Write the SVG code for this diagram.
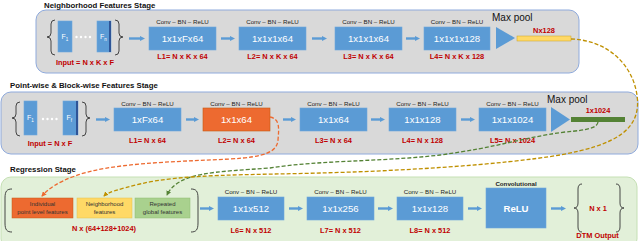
<svg xmlns="http://www.w3.org/2000/svg" width="640" height="241" viewBox="0 0 640 241">
<defs>
<style>
.p1{fill:#d9d9d9;stroke:#8faadc;stroke-width:1}
.p3{fill:#e2f0d9;stroke:#c5e0b4;stroke-width:1}
.title{font-family:"Liberation Sans",Arial,sans-serif;font-size:7.8px;font-weight:bold;fill:#111}
.hdr{font-family:"Liberation Sans",Arial,sans-serif;font-size:6.2px;fill:#222;text-anchor:middle}
.box{fill:#5b9bd5;stroke:#6fa8dc;stroke-width:0.6}
.bt{font-family:"Liberation Sans",Arial,sans-serif;font-size:9.6px;fill:#fff;text-anchor:middle}
.lab{font-family:"Liberation Sans",Arial,sans-serif;font-size:7.4px;font-weight:bold;fill:#c00000;text-anchor:middle}
.ft{font-family:"Liberation Sans",Arial,sans-serif;font-size:7px;fill:#fff}
.mp{font-family:"Liberation Sans",Arial,sans-serif;font-size:10px;fill:#111}
.rt{font-family:"Liberation Sans",Arial,sans-serif;font-size:6px;fill:#333;text-anchor:middle}
.arr{stroke:#5b9bd5;stroke-width:2.4;fill:none;marker-end:url(#ab)}
.br{fill:none;stroke:#333;stroke-width:0.9}
.dsh{fill:none;stroke-width:1.3;stroke-dasharray:4 2}
.dot{fill:#fff}
</style>
<marker id="ab" viewBox="0 0 6 6" refX="0" refY="3" markerWidth="5" markerHeight="6" markerUnits="userSpaceOnUse" orient="auto"><path d="M0,0 L6,3 L0,6 z" fill="#5b9bd5"/></marker>
<marker id="mo" viewBox="0 0 6 6" refX="5" refY="3" markerWidth="5" markerHeight="5" markerUnits="userSpaceOnUse" orient="auto"><path d="M0,0 L6,3 L0,6 z" fill="#ed6a30"/></marker>
<marker id="mg" viewBox="0 0 6 6" refX="5" refY="3" markerWidth="5" markerHeight="5" markerUnits="userSpaceOnUse" orient="auto"><path d="M0,0 L6,3 L0,6 z" fill="#548235"/></marker>
<marker id="my" viewBox="0 0 6 6" refX="5" refY="3" markerWidth="5" markerHeight="5" markerUnits="userSpaceOnUse" orient="auto"><path d="M0,0 L6,3 L0,6 z" fill="#bf9000"/></marker>
</defs>

<!-- Stage 1 -->
<g id="stage1">
<rect class="p1" x="36" y="10" width="543" height="63" rx="10"/>
<text class="title" x="44" y="7.5">Neighborhood Features Stage</text>
</g>
<g id="s1-input">
<path class="br" d="M55,20 Q51,20 51,24 L51,33 Q51,37 47,37 Q51,37 51,41 L51,51 Q51,55 55,55"/>
<path class="br" d="M115,20 Q119,20 119,24 L119,33 Q119,37 123,37 Q119,37 119,41 L119,51 Q119,55 115,55"/>
<rect class="box" x="58" y="21" width="14" height="31"/>
<rect class="box" x="97" y="21" width="14" height="31"/>
<rect x="109" y="21" width="2" height="31" fill="#2f5597"/>
<text class="ft" x="61.5" y="39">F<tspan font-size="4.5" dy="1.5">1</tspan></text>
<text class="ft" x="100" y="39">F<tspan font-size="4.5" dy="1.5">n</tspan></text>
<circle class="dot" cx="76.5" cy="37" r="1.2"/><circle class="dot" cx="81" cy="37" r="1.2"/><circle class="dot" cx="85.5" cy="37" r="1.2"/><circle class="dot" cx="90" cy="37" r="1.2"/>
<text class="lab" x="85" y="65">Input = N x K x F</text>
</g>
<g id="s1-L1">
<text class="hdr" x="182.5" y="24">Conv – BN – ReLU</text>
<rect class="box" x="149" y="27" width="67" height="23"/>
<text class="bt" x="182.5" y="42">1x1xFx64</text>
<text class="lab" x="182.5" y="59">L1= N x K x 64</text>
</g>
<g id="s1-L2">
<text class="hdr" x="272.5" y="24">Conv – BN – ReLU</text>
<rect class="box" x="239" y="27" width="67" height="23"/>
<text class="bt" x="272.5" y="42">1x1x1x64</text>
<text class="lab" x="272.5" y="59">L2= N x K x 64</text>
</g>
<g id="s1-L3">
<text class="hdr" x="368.5" y="24">Conv – BN – ReLU</text>
<rect class="box" x="335" y="27" width="67" height="23"/>
<text class="bt" x="368.5" y="42">1x1x1x64</text>
<text class="lab" x="368.5" y="59">L3= N x K x 64</text>
</g>
<g id="s1-L4">
<text class="hdr" x="457" y="24">Conv – BN – ReLU</text>
<rect class="box" x="424" y="27" width="66" height="23"/>
<text class="bt" x="457" y="42">1x1x1x128</text>
<text class="lab" x="457" y="59">L4= N x K x 128</text>
</g>
<g id="s1-pool">
<text class="mp" x="492" y="21">Max pool</text>
<polygon points="496,27 496,49 515,38" fill="#5b9bd5"/>
<rect x="517" y="36" width="54" height="5" fill="#ffd966" stroke="#c9a227" stroke-width="0.5"/>
<text class="lab" x="544" y="32.5" font-size="9.5">Nx128</text>
</g>

<!-- Stage 2 -->
<g id="stage2">
<rect class="p1" x="1" y="92" width="637" height="62" rx="10"/>
<text class="title" x="10" y="87.5">Point-wise &amp; Block-wise Features Stage</text>
</g>
<g id="s2-input">
<path class="br" d="M20,102 Q16,102 16,106 L16,114 Q16,118 12,118 Q16,118 16,122 L16,132 Q16,136 20,136"/>
<path class="br" d="M82,102 Q86,102 86,106 L86,114 Q86,118 90,118 Q86,118 86,122 L86,132 Q86,136 82,136"/>
<rect class="box" x="24" y="101" width="13" height="34"/>
<rect class="box" x="63" y="101" width="15" height="34"/>
<rect x="76" y="101" width="2" height="34" fill="#2f5597"/>
<text class="ft" x="27" y="120">F<tspan font-size="4.5" dy="1.5">1</tspan></text>
<text class="ft" x="66.5" y="120">F<tspan font-size="4.5" dy="1.5">f</tspan></text>
<circle class="dot" cx="43" cy="119" r="1.2"/><circle class="dot" cx="47.5" cy="119" r="1.2"/><circle class="dot" cx="52" cy="119" r="1.2"/><circle class="dot" cx="56.5" cy="119" r="1.2"/>
<text class="lab" x="50" y="146">Input = N x F</text>
</g>
<g id="s2-L1">
<text class="hdr" x="147.5" y="105.5">Conv – BN – ReLU</text>
<rect class="box" x="114" y="108" width="67" height="23"/>
<text class="bt" x="147.5" y="123">1xFx64</text>
<text class="lab" x="147.5" y="143">L1= N x 64</text>
</g>
<g id="s2-L2">
<text class="hdr" x="236.5" y="105.5">Conv – BN – ReLU</text>
<rect x="203" y="108" width="67" height="23" fill="#ed6a30" stroke="#c55a11" stroke-width="0.6"/>
<text class="bt" x="236.5" y="123">1x1x64</text>
<text class="lab" x="236.5" y="143">L2= N x 64</text>
</g>
<g id="s2-L3">
<text class="hdr" x="333.5" y="105.5">Conv – BN – ReLU</text>
<rect class="box" x="300" y="108" width="67" height="23"/>
<text class="bt" x="333.5" y="123">1x1x64</text>
<text class="lab" x="333.5" y="143">L3= N x 64</text>
</g>
<g id="s2-L4">
<text class="hdr" x="422.5" y="105.5">Conv – BN – ReLU</text>
<rect class="box" x="389" y="108" width="67" height="23"/>
<text class="bt" x="422.5" y="123">1x1x128</text>
<text class="lab" x="422.5" y="143">L4= N x 128</text>
</g>
<g id="s2-L5">
<text class="hdr" x="512.5" y="105.5">Conv – BN – ReLU</text>
<rect class="box" x="479" y="108" width="67" height="23"/>
<text class="bt" x="512.5" y="123">1x1x1024</text>
<text class="lab" x="512.5" y="143">L5= N x 1024</text>
</g>
<g id="s2-pool">
<text class="mp" x="547" y="103">Max pool</text>
<polygon points="551,107 551,132 570,119.5" fill="#5b9bd5"/>
<rect x="571" y="117" width="54" height="5" fill="#548235"/>
<text class="lab" x="598" y="113" font-size="9.5">1x1024</text>
</g>

<!-- Stage 3 -->
<g id="stage3">
<rect class="p3" x="1" y="177" width="636" height="72" rx="10"/>
<text class="title" x="10" y="172">Regression Stage</text>
</g>
<g id="s3-concat">
<path class="br" d="M12,189 C7,189 5,191 5,198 L5,223 C5,230 7,232 12,232"/>
<path class="br" d="M191,189 C196,189 198,191 198,198 L198,223 C198,230 196,232 191,232"/>
<rect x="12" y="198" width="61" height="20" fill="#ed6a30" stroke="#c55a11" stroke-width="0.5"/>
<text class="rt" x="42.5" y="205.5">Individual</text>
<text class="rt" x="42.5" y="213.5">point level features</text>
<rect x="77" y="198" width="55" height="20" fill="#ffd966" stroke="#e2c04f" stroke-width="0.5"/>
<text class="rt" x="104.5" y="205.5">Neighborhood</text>
<text class="rt" x="104.5" y="213.5">features</text>
<rect x="135" y="198" width="55" height="20" fill="#a9d18e" stroke="#8fbc72" stroke-width="0.5"/>
<text class="rt" x="162.5" y="205.5">Repeated</text>
<text class="rt" x="162.5" y="213.5">global features</text>
<text class="lab" x="104" y="231">N x (64+128+1024)</text>
</g>
<g id="s3-L6">
<text class="hdr" x="251" y="194">Conv – BN – ReLU</text>
<rect class="box" x="218" y="197" width="66" height="23"/>
<text class="bt" x="251" y="212">1x1x512</text>
<text class="lab" x="251" y="233">L6= N x 512</text>
</g>
<g id="s3-L7">
<text class="hdr" x="340.5" y="194">Conv – BN – ReLU</text>
<rect class="box" x="307" y="197" width="67" height="23"/>
<text class="bt" x="340.5" y="212">1x1x256</text>
<text class="lab" x="340.5" y="233">L7= N x 512</text>
</g>
<g id="s3-L8">
<text class="hdr" x="430" y="194">Conv – BN – ReLU</text>
<rect class="box" x="397" y="197" width="66" height="23"/>
<text class="bt" x="430" y="212">1x1x128</text>
<text class="lab" x="430" y="233">L8= N x 512</text>
</g>
<g id="s3-relu">
<text class="hdr" x="516" y="186" font-weight="bold">Convolutional</text>
<rect class="box" x="486" y="188" width="60" height="40"/>
<text class="bt" x="516" y="211.5" font-weight="bold" font-size="9.5">ReLU</text>
</g>
<g id="s3-output">
<path class="br" d="M582,184 Q578,184 578,189 L578,203 Q578,208 574,208 Q578,208 578,213 L578,227 Q578,232 582,232"/>
<path class="br" d="M616,184 Q620,184 620,189 L620,203 Q620,208 624,208 Q620,208 620,213 L620,227 Q620,232 616,232"/>
<text class="lab" x="598" y="211" font-size="9.2">N x 1</text>
<text class="lab" x="597.5" y="238" font-size="8.2">DTM Output</text>
</g>

<!-- Connectors -->
<g id="connectors">
<line class="arr" x1="129" y1="38.5" x2="140" y2="38.5"/>
<line class="arr" x1="221" y1="38.5" x2="230" y2="38.5"/>
<line class="arr" x1="312" y1="38.5" x2="322" y2="38.5"/>
<line class="arr" x1="406" y1="38.5" x2="415" y2="38.5"/>
<line class="arr" x1="96" y1="119.5" x2="105" y2="119.5"/>
<line class="arr" x1="186" y1="119.5" x2="194" y2="119.5"/>
<line class="arr" x1="283" y1="119.5" x2="291" y2="119.5"/>
<line class="arr" x1="371" y1="119.5" x2="380" y2="119.5"/>
<line class="arr" x1="461" y1="119.5" x2="470" y2="119.5"/>
<line class="arr" x1="200" y1="208.5" x2="209" y2="208.5"/>
<line class="arr" x1="289" y1="208.5" x2="298" y2="208.5"/>
<line class="arr" x1="378" y1="208.5" x2="388" y2="208.5"/>
<line class="arr" x1="468" y1="208.5" x2="477" y2="208.5"/>
<line class="arr" x1="551" y1="208.5" x2="561" y2="208.5"/>
<path class="dsh" stroke="#ed6a30" marker-end="url(#mo)" d="M270,117 C280,119 279,128 278,140 C277,152 265,157 230,159 C170,162 110,163 75,176 C58,182 48,189 42,196"/>
<path class="dsh" stroke="#548235" marker-end="url(#mg)" d="M598,122 C597,128 588,130 565,132 C520,138 500,147 440,155 C380,162 320,160 270,168 C215,172 178,172 167,195"/>
<path class="dsh" stroke="#bf9000" marker-end="url(#my)" d="M571,39 C605,40 632,62 637,95 C642,130 615,145 560,155 C500,165 400,171 320,173 C250,175 180,174 140,184 C120,189 108,192 104,196"/>
</g>
</svg>
